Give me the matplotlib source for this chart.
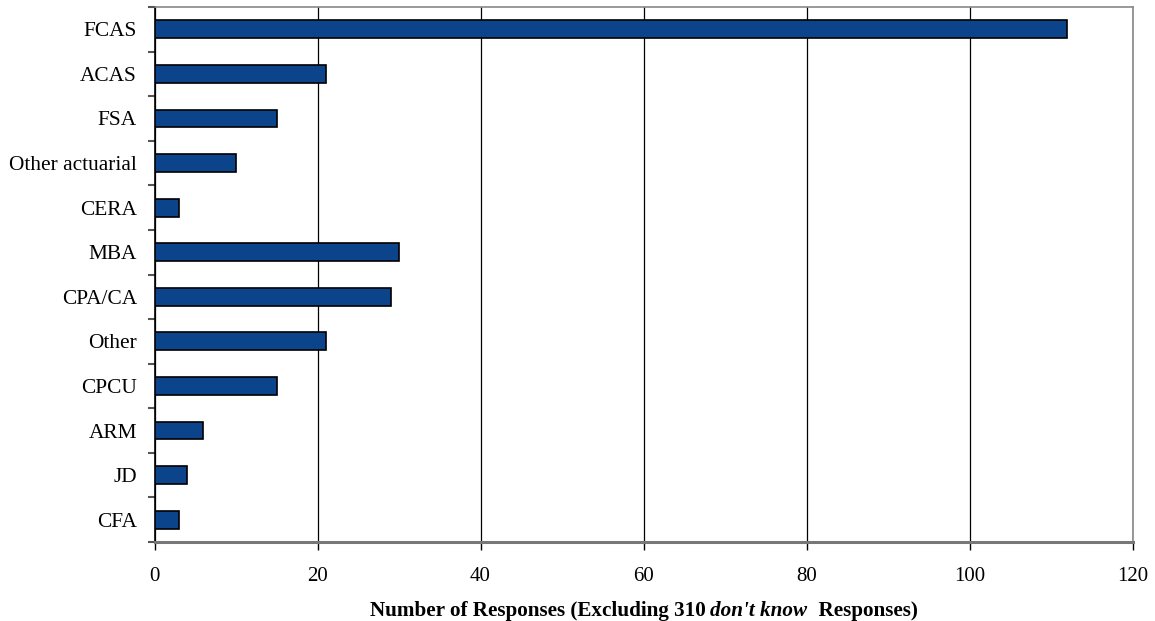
import matplotlib
matplotlib.use("Agg")
import matplotlib.pyplot as plt
import numpy as np

categories = ["FCAS", "ACAS", "FSA", "Other actuarial", "CERA", "MBA",
              "CPA/CA", "Other", "CPCU", "ARM", "JD", "CFA"]
responses = [112, 21, 15, 10, 3, 30, 29, 21, 15, 6, 4, 3]
x_ticks = [0, 20, 40, 60, 80, 100, 120]

plt.rcParams["font.family"] = ["Liberation Serif", "DejaVu Serif"]

W, H = 1155, 621
fig = plt.figure(figsize=(W / 100, H / 100), dpi=100)
left, right, top, bottom = 154.5, 1132.5, 7, 542
ax = fig.add_axes([left / W, 1 - bottom / H, (right - left) / W, (bottom - top) / H])

n = len(categories)
ypos = np.arange(n)[::-1]
ax.barh(ypos, responses, height=0.4, color="#0C448C", edgecolor="black",
        linewidth=1.2, zorder=3)

ax.set_xlim(0, 120)
ax.set_ylim(-0.5, n - 0.5)
ax.set_xticks(x_ticks)
ax.set_xticklabels([str(t) for t in x_ticks])
ax.xaxis.grid(True, color="black", linewidth=0.9, zorder=0)
ax.set_axisbelow(True)

# category labels centred on bars, tick marks at the category boundaries
ax.set_yticks(ypos)
ax.set_yticklabels(categories)
ax.set_yticks(np.arange(n + 1) - 0.5, minor=True)
ax.tick_params(axis="y", which="major", length=0, pad=12.6, labelsize=15.4)
ax.tick_params(axis="y", which="minor", length=5, width=1.5, color="#555555")
ax.tick_params(axis="x", which="major", length=5.8, width=1.0, color="black",
               pad=12.0, labelsize=15)

for side in ("top", "right"):
    ax.spines[side].set_color("#888888")
    ax.spines[side].set_linewidth(1.2)
ax.spines["bottom"].set_color("#777777")
ax.spines["bottom"].set_linewidth(2.2)
ax.spines["left"].set_color("black")
ax.spines["left"].set_linewidth(1.2)

# x-axis title with an italic phrase in the middle
parts = [("Number of Responses (Excluding 310 ", "normal"),
         ("don't know", "italic"),
         ("  Responses)", "normal")]
fig.canvas.draw()
renderer = fig.canvas.get_renderer()
texts = []
for s, style in parts:
    t = fig.text(0, 0, s, fontsize=15.2, fontweight="bold", fontstyle=style,
                 va="center", ha="left")
    texts.append(t)
widths = [t.get_window_extent(renderer).width for t in texts]
total = sum(widths)
cx = (left + right) / 2
x0 = cx - total / 2
y_px = H - 611
for t, w in zip(texts, widths):
    t.set_position((x0 / W, y_px / H))
    x0 += w

fig.savefig("out.png", dpi=100)
